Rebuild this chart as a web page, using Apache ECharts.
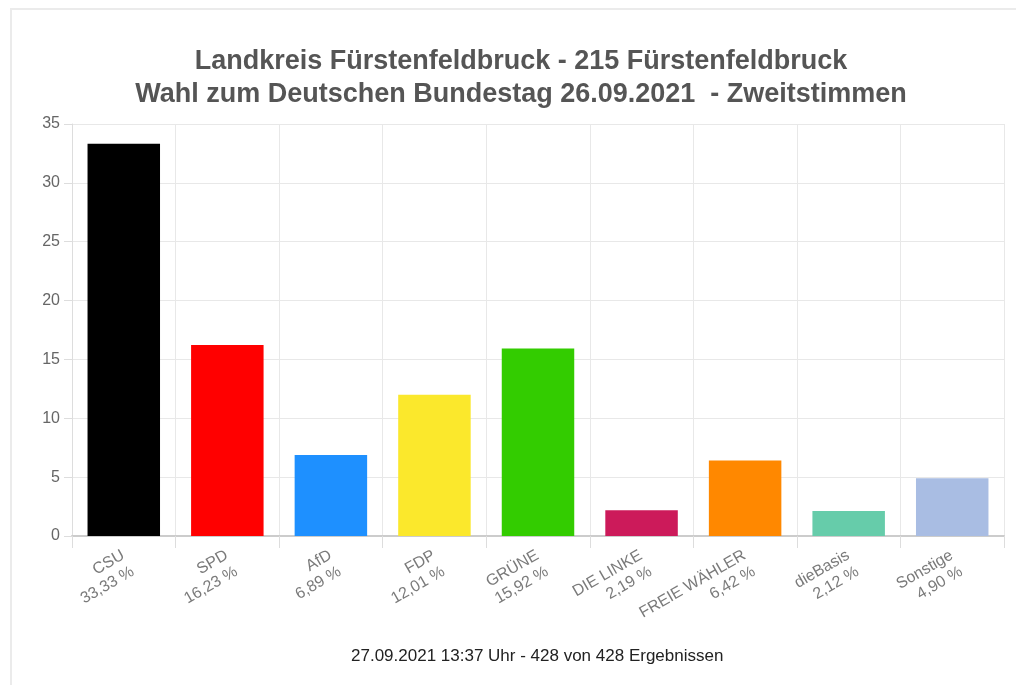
<!DOCTYPE html>
<html>
<head>
<meta charset="utf-8">
<script src="https://cdn.jsdelivr.net/npm/echarts@6/dist/echarts.min.js"></script>
<style>
  html, body { margin: 0; padding: 0; background: #fff; }
  #chart { width: 1016px; height: 685px; }
</style>
</head>
<body>
<div id="chart"></div>
<script>
// Parteien und Zweitstimmen-Anteile
const parties = ['CSU', 'SPD', 'AfD', 'FDP', 'GRÜNE', 'DIE LINKE', 'FREIE WÄHLER', 'dieBasis', 'Sonstige'];
const percentLabels = ['33,33 %', '16,23 %', '6,89 %', '12,01 %', '15,92 %', '2,19 %', '6,42 %', '2,12 %', '4,90 %'];
const values = [33.33, 16.23, 6.89, 12.01, 15.92, 2.19, 6.42, 2.12, 4.90];
const partyColors = ['#000000', '#ff0000', '#1e90ff', '#fbe82c', '#33cc00', '#cc1a5a', '#ff8800', '#66ccaa', '#a9bde3'];

const chart = echarts.init(document.getElementById('chart'));

const option = {
  animation: false,
  title: {
    text: 'Landkreis Fürstenfeldbruck - 215 Fürstenfeldbruck\nWahl zum Deutschen Bundestag 26.09.2021  - Zweitstimmen',
    left: 516,
    top: 40,
    textAlign: 'center',
    textStyle: {
      fontFamily: 'Liberation Sans',
      fontWeight: 'bold',
      fontSize: 27,
      lineHeight: 33,
      color: '#555555'
    }
  },
  graphic: [
    {
      type: 'rect',
      shape: { x: 11, y: 9, width: 1200, height: 1000 },
      style: { fill: 'none', stroke: '#ebebeb', lineWidth: 2 },
      silent: true
    },
    {
      type: 'text',
      left: 351,
      top: 648,
      style: {
        text: '27.09.2021 13:37 Uhr - 428 von 428 Ergebnissen',
        fontFamily: 'Liberation Sans',
        fontSize: 17,
        fill: '#222222'
      }
    }
  ],
  grid: { left: 72, right: 12, top: 124, bottom: 149 },
  xAxis: {
    type: 'category',
    data: parties,
    axisLine: { lineStyle: { color: '#cccccc', width: 2 } },
    axisTick: { show: true, length: 12, lineStyle: { color: '#dddddd' } },
    splitLine: { show: true, lineStyle: { color: '#e8e8e8' } },
    axisLabel: {
      rotate: 30,
      margin: 7,
      interval: 0,
      align: 'right',
      verticalAlign: 'top',
      padding: [0, 6, 0, 0],
      fontFamily: 'Liberation Sans',
      fontSize: 16,
      lineHeight: 19,
      color: '#7a7a7a',
      formatter: function (v, i) { return v + '\n' + percentLabels[i]; }
    }
  },
  yAxis: {
    type: 'value',
    min: 0,
    max: 35,
    interval: 5,
    axisLine: { show: true, lineStyle: { color: '#dddddd' } },
    axisTick: { show: true, length: 8, lineStyle: { color: '#dddddd' } },
    splitLine: { lineStyle: { color: '#e8e8e8' } },
    axisLabel: {
      margin: 12,
      fontFamily: 'Liberation Sans',
      fontSize: 16,
      color: '#666666'
    }
  },
  series: [{
    type: 'bar',
    data: values.map((v, i) => ({ value: v, itemStyle: { color: partyColors[i] } })),
    barCategoryGap: '30%'
  }]
};

chart.setOption(option);
</script>
</body>
</html>
